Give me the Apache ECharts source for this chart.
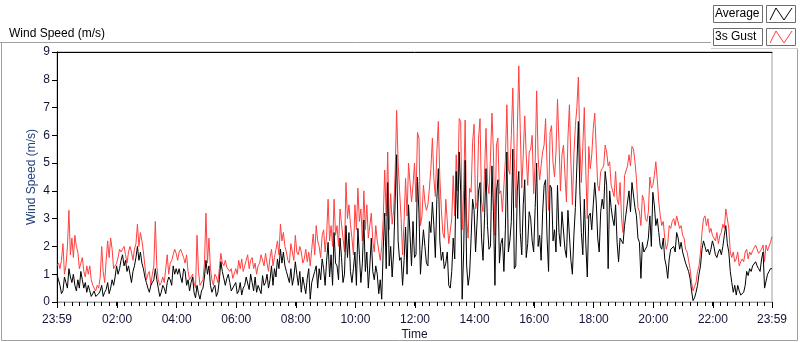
<!DOCTYPE html>
<html>
<head>
<meta charset="utf-8">
<title>Wind Speed</title>
<script src="https://cdn.jsdelivr.net/npm/echarts@6.0.0/dist/echarts.min.js"></script>
<style>
  html, body { margin: 0; padding: 0; background: #fff; }
  #main { width: 800px; height: 342px; }
</style>
</head>
<body>
<div id="main"></div>
<script>
// readings every 6 minutes from 23:59 the day before,
// plus a second set taken 3 minutes after each of them
var startTime = '23:59'
var stepMinutes = 6

var tickLabels = ['23:59', '02:00', '04:00', '06:00', '08:00', '10:00', '12:00',
  '14:00', '16:00', '18:00', '20:00', '22:00', '23:59']
var yTicks = [0, 1, 2, 3, 4, 5, 6, 7, 8, 9]

// 3s gust (m/s) on the 6 minute marks
var gust = [
  1.3, 1.2, 2.1, 1.3, 3.3, 2.3, 2.4, 1.8, 1.4, 1.1,
  1.3, 1.3, 0.6, 0.4, 0.5, 2.0, 0.7, 2.2, 2.3, 1.2,
  1.4, 1.9, 1.9, 1.7, 1.8, 1.8, 1.9, 2.8, 2.5, 1.8,
  0.8, 1.1, 1.0, 2.9, 0.8, 0.7, 0.7, 1.7, 1.4, 1.7,
  1.75, 1.8, 1.75, 1.4, 1.1, 0.8, 0.7, 2.4, 0.6, 0.8,
  3.2, 2.3, 0.8, 1.0, 0.7, 1.75, 1.3, 1.25, 1.1, 0.85,
  1.2, 1.5, 1.55, 1.3, 1.7, 1.5, 1.2, 1.0, 1.4, 1.7,
  1.75, 1.1, 1.9, 1.6, 2.2, 2.8, 2.5, 1.8, 1.4, 1.8,
  2.4, 1.7, 1.8, 1.55, 1.45, 1.3, 2.45, 2.75, 2.0, 2.4,
  1.8, 3.7, 2.75, 3.7, 2.75, 3.35, 2.3, 4.3, 3.5, 2.3,
  3.5, 4.1, 3.35, 4.0, 3.5, 2.75, 2.2, 2.75, 2.2, 2.0,
  4.75, 5.4, 3.9, 3.3, 6.9, 4.0, 1.7, 4.45, 5.0, 3.6,
  5.0, 6.1, 2.75, 4.2, 3.3, 4.1, 5.9, 3.8, 6.5, 3.35,
  2.3, 3.7, 2.1, 4.55, 5.3, 6.6, 2.6, 6.55, 2.3, 3.95,
  6.4, 3.6, 6.6, 3.25, 6.25, 3.9, 6.8, 2.4, 5.9, 4.0,
  3.3, 7.1, 4.6, 7.7, 3.4, 8.5, 4.1, 6.7, 4.2, 5.5,
  3.9, 7.6, 4.4, 5.4, 6.6, 3.3, 6.35, 4.5, 7.3, 4.0,
  5.65, 3.6, 7.1, 3.5, 6.35, 8.1, 4.3, 7.0, 3.0, 4.8,
  6.25, 5.5, 4.0, 4.8, 5.65, 4.9, 4.2, 3.8, 3.7, 4.3,
  2.5, 4.5, 5.3, 5.6, 5.05, 3.4, 2.75, 3.65, 2.9, 4.5,
  4.2, 5.05, 3.6, 2.75, 2.3, 2.1, 2.65, 3.0, 3.1, 2.65,
  2.4, 1.9, 1.5, 0.7, 0.55, 1.1, 1.8, 3.0, 2.75, 2.5,
  2.4, 2.2, 2.1, 2.5, 2.65, 3.3, 1.8, 1.8, 1.55, 1.3,
  1.55, 1.8, 1.55, 1.7, 1.95, 2.05, 1.7, 2.05, 2.05, 1.8, 2.35
]

// 3s gust (m/s) 3 minutes after each mark
var gustMid = [
  1.4, 1.5, 1.0, 2.0, 1.7, 1.6, 2.0, 1.2, 1.6, 0.9,
  1.0, 0.8, 0.5, 0.6, 0.9, 1.1, 1.5, 1.6, 1.9, 1.2,
  1.6, 1.8, 2.0, 1.4, 2.0, 1.5, 2.1, 2.0, 2.2, 1.3,
  1.0, 0.6, 1.3, 1.3, 0.6, 0.9, 1.2, 1.0, 1.5, 1.9,
  1.5, 1.9, 1.6, 1.7, 0.8, 1.0, 0.5, 1.1, 0.6, 1.4,
  1.4, 1.2, 0.6, 0.9, 1.2, 1.4, 1.5, 1.3, 1.2, 0.9,
  1.0, 1.2, 1.1, 1.5, 1.2, 1.6, 1.4, 1.3, 1.7, 1.3,
  1.4, 1.6, 1.3, 1.9, 1.7, 2.2, 2.0, 1.5, 2.1, 1.5,
  1.8, 2.0, 1.4, 1.9, 1.8, 1.9, 1.7, 2.2, 1.6, 2.6,
  2.4, 2.2, 2.0, 2.4, 2.0, 2.8, 1.8, 3.0, 2.8, 1.7,
  2.6, 2.9, 2.2, 2.6, 2.3, 3.2, 1.8, 2.2, 1.5, 3.0,
  3.1, 2.6, 2.8, 4.6, 5.0, 3.0, 2.9, 3.1, 4.3, 4.2,
  3.6, 5.9, 3.1, 3.6, 3.5, 4.8, 4.45, 5.4, 4.5, 2.5,
  3.7, 2.1, 3.0, 3.1, 4.0, 6.5, 4.0, 3.0, 4.1, 5.75,
  3.35, 5.9, 3.6, 4.6, 4.3, 5.2, 5.4, 5.65, 3.9, 3.25,
  5.1, 4.8, 6.0, 5.2, 6.1, 6.2, 5.3, 5.3, 5.4, 6.0,
  5.0, 5.2, 4.9, 5.65, 4.9, 6.1, 5.0, 5.4, 5.75, 5.3,
  4.6, 5.9, 5.0, 5.3, 7.0, 5.75, 5.6, 4.7, 5.6, 5.3,
  6.8, 4.2, 4.7, 4.9, 5.4, 5.05, 4.0, 4.7, 3.5, 3.0,
  4.55, 4.9, 4.9, 5.5, 4.45, 3.25, 3.85, 3.0, 3.25, 4.1,
  4.55, 4.4, 3.1, 2.9, 1.9, 2.75, 2.9, 2.75, 3.1, 2.75,
  2.3, 1.8, 1.2, 0.4, 0.7, 1.3, 2.5, 3.1, 3.0, 2.65,
  2.35, 2.5, 2.4, 2.8, 3.35, 2.65, 1.6, 1.45, 1.8, 1.45,
  1.45, 1.9, 1.8, 1.85, 2.05, 1.75, 1.9, 1.45, 1.85, 2.15
]

// average (m/s) on the 6 minute marks
var average = [
  1.0, 0.6, 0.4, 0.7, 1.2, 0.7, 0.6, 0.8, 1.1, 0.5,
  0.35, 0.4, 0.25, 0.2, 0.3, 0.6, 0.35, 0.7, 0.5, 0.6,
  1.3, 1.2, 1.7, 1.5, 1.3, 0.7, 1.3, 2.0, 1.8, 1.2,
  0.7, 0.35, 0.7, 1.2, 0.5, 0.35, 0.5, 0.7, 0.8, 1.3,
  1.2, 1.2, 0.7, 1.1, 0.8, 0.7, 0.35, 0.6, 0.1, 0.5,
  1.5, 1.3, 0.35, 0.6, 0.35, 1.45, 1.1, 0.85, 0.7, 0.35,
  0.7, 0.4, 0.25, 0.6, 0.85, 1.0, 0.4, 0.35, 0.6, 0.95,
  0.7, 0.5, 1.3, 1.2, 1.55, 1.9, 1.8, 1.1, 0.7, 0.6,
  1.45, 0.6, 0.35, 0.6, 0.85, 0.1, 0.7, 1.3, 1.2, 1.55,
  0.6, 2.15, 1.7, 2.5, 1.3, 2.3, 0.7, 2.75, 2.5, 0.7,
  1.8, 2.65, 0.7, 2.95, 1.8, 1.3, 1.1, 1.3, 0.3, 0.1,
  3.2, 4.3, 2.0, 1.8, 5.3, 1.5, 0.6, 2.7, 3.5, 1.3,
  1.6, 4.5, 1.0, 2.6, 1.4, 2.9, 3.6, 1.6, 4.8, 1.5,
  1.2, 1.8, 0.5, 2.3, 4.7, 5.4, 0.1, 5.1, 0.6, 2.3,
  3.3, 1.8, 4.3, 1.5, 4.8, 1.9, 4.9, 0.6, 4.4, 2.1,
  1.1, 5.4, 2.2, 5.5, 1.3, 4.7, 1.7, 4.4, 2.1, 3.0,
  1.8, 5.0, 2.4, 3.2, 4.4, 1.1, 4.1, 2.6, 4.2, 2.0,
  3.2, 1.6, 3.3, 1.0, 3.4, 6.5, 2.5, 3.7, 0.9, 3.2,
  3.5, 3.6, 1.8, 3.7, 4.7, 1.2, 3.4, 2.75, 2.15, 2.3,
  2.1, 2.8, 4.0, 4.3, 3.4, 2.3, 0.85, 1.8, 2.0, 3.1,
  3.95, 2.75, 2.5, 1.9, 1.55, 0.85, 1.9, 2.0, 2.5, 1.9,
  1.8, 1.4, 1.1, 0.4, 0.15, 0.6, 1.3, 2.2, 1.8, 1.7,
  2.2, 1.7, 1.8, 1.7, 2.4, 2.1, 1.1, 0.35, 0.25, 0.4,
  0.25, 0.6, 0.95, 1.1, 1.3, 1.3, 1.1, 1.8, 0.5, 1.1, 1.2
]

// average (m/s) 3 minutes after each mark
var averageMid = [
  0.8, 0.3, 0.9, 0.5, 0.9, 1.0, 0.4, 0.5, 0.8, 0.7,
  0.6, 0.2, 0.4, 0.15, 0.4, 0.2, 0.45, 0.3, 0.8, 0.9,
  1.0, 1.5, 1.3, 1.1, 1.0, 1.1, 1.6, 1.5, 1.4, 0.9,
  0.5, 0.6, 0.8, 0.8, 0.2, 0.6, 0.3, 0.9, 0.6, 1.0,
  1.0, 0.9, 1.2, 0.6, 0.4, 0.9, 0.15, 0.3, 0.4, 0.9,
  1.0, 0.6, 0.5, 0.2, 0.8, 1.1, 0.6, 1.0, 0.4, 0.6,
  0.3, 0.7, 0.5, 0.9, 0.45, 0.7, 0.9, 0.6, 0.3, 0.6,
  1.0, 0.8, 0.6, 0.9, 1.2, 1.4, 1.3, 0.9, 1.2, 0.9,
  1.0, 1.1, 0.9, 0.3, 1.2, 0.7, 1.1, 0.5, 0.8, 1.2,
  1.5, 0.9, 0.6, 1.4, 0.8, 1.6, 1.0, 1.6, 1.1, 1.2,
  0.6, 1.7, 1.4, 1.1, 0.5, 2.3, 0.8, 1.0, 0.8, 1.9,
  1.2, 1.3, 0.9, 3.6, 2.2, 1.6, 1.5, 1.0, 2.4, 2.9,
  1.7, 3.2, 1.9, 2.0, 1.3, 2.5, 2.75, 3.7, 2.2, 1.8,
  1.4, 0.6, 1.1, 1.55, 3.0, 4.0, 1.8, 1.3, 1.0, 3.7,
  1.8, 4.0, 2.3, 3.0, 2.75, 2.0, 3.25, 4.0, 1.4, 2.3,
  2.6, 1.8, 2.9, 1.2, 4.0, 2.5, 3.5, 1.6, 3.25, 2.2,
  3.4, 2.0, 1.5, 4.2, 2.3, 4.2, 2.2, 1.8, 2.5, 3.25,
  1.9, 3.3, 1.5, 2.4, 4.9, 4.0, 1.7, 2.1, 3.1, 2.6,
  4.3, 2.3, 3.25, 3.35, 4.2, 4.0, 3.0, 3.5, 1.45, 2.3,
  2.75, 3.6, 3.25, 3.85, 3.1, 2.15, 2.15, 1.9, 2.3, 2.0,
  3.5, 3.0, 2.0, 2.3, 1.3, 1.55, 1.9, 1.8, 2.3, 2.15,
  1.75, 1.4, 0.85, 0.05, 0.35, 1.0, 1.9, 2.0, 1.9, 1.9,
  2.0, 1.6, 1.9, 2.0, 2.75, 1.8, 0.7, 0.6, 0.6, 0.25,
  0.35, 1.1, 1.2, 1.3, 1.45, 1.2, 1.55, 0.5, 1.0, 1.2
]

function toMin(t) {
  var p = t.split(':')
  return parseInt(p[0], 10) * 60 + parseInt(p[1], 10)
}

var start = toMin(startTime)
var span = 1440

// label positions in minutes after the start
var majorPos = tickLabels.map(function (t, i) {
  var m = (toMin(t) - start + span) % span
  if (i === tickLabels.length - 1 && m === 0) m = span
  return m
})
var labelAt = {}
majorPos.forEach(function (m, i) { labelAt[m] = tickLabels[i] })

// merge the two reading sets into one time-ordered list
function pairs(marks, mids) {
  var out = []
  marks.forEach(function (v, i) {
    out.push([i * stepMinutes, v])
    if (i < mids.length) out.push([i * stepMinutes + stepMinutes / 2, mids[i]])
  })
  return out
}

var font = 'Liberation Sans, Arial, sans-serif'
var tickColor = '#141436'

var option = {
  animation: false,
  backgroundColor: '#fff',
  title: {
    text: 'Wind Speed (m/s)',
    left: 4,
    top: 23,
    textStyle: { fontFamily: font, fontSize: 12, fontWeight: 'normal', color: '#000' }
  },
  grid: {
    left: 57, right: 28, top: 52, bottom: 40,
    show: true,
    borderColor: '#a0a0a0',
    borderWidth: 1,
    outerBoundsMode: 'none'
  },
  xAxis: [
    {
      // labels every 2 hours, short ticks every 15 minutes
      type: 'value', min: 0, max: span, interval: 15, position: 'bottom',
      name: 'Time', nameLocation: 'middle', nameGap: 27, nameMoveOverlap: false,
      nameTextStyle: { fontFamily: font, fontSize: 12, color: tickColor },
      axisLine: { show: true, lineStyle: { color: '#a0a0a0' } },
      axisTick: { show: true, length: 4, lineStyle: { color: '#000' } },
      axisLabel: {
        customValues: majorPos,
        formatter: function (v) { return labelAt[v] || '' },
        fontFamily: font, fontSize: 12, color: tickColor, margin: 12
      },
      splitLine: { show: false }
    },
    {
      // longer ticks under the labels
      type: 'value', min: 0, max: span, position: 'bottom',
      axisLine: { show: true, lineStyle: { color: '#a0a0a0' } },
      axisTick: { show: true, customValues: majorPos, length: 6, lineStyle: { color: '#000' } },
      axisLabel: { show: false },
      splitLine: { show: false }
    },
    {
      type: 'value', min: 0, max: span, position: 'top',
      axisLine: { show: true, lineStyle: { color: '#000' } },
      axisTick: { show: false },
      axisLabel: { show: false },
      splitLine: { show: false }
    }
  ],
  yAxis: {
    type: 'value', min: yTicks[0], max: yTicks[yTicks.length - 1], interval: 1,
    name: 'Wind Speed (m/s)', nameLocation: 'middle', nameGap: 19, nameMoveOverlap: false,
    nameTextStyle: { fontFamily: font, fontSize: 12, color: '#23417a' },
    axisLine: { show: true, lineStyle: { color: '#000' } },
    axisTick: { show: true, length: 5, lineStyle: { color: '#000' } },
    axisLabel: { fontFamily: font, fontSize: 12, color: tickColor, margin: 7 },
    splitLine: { show: false }
  },
  graphic: [
    // outer frame
    { type: 'line', silent: true, shape: { x1: 0, y1: 42.5, x2: 711, y2: 42.5 }, style: { stroke: '#a0a0a0', lineWidth: 1 } },
    { type: 'line', silent: true, shape: { x1: 1.5, y1: 42.5, x2: 1.5, y2: 340.5 }, style: { stroke: '#a0a0a0', lineWidth: 1 } },
    { type: 'line', silent: true, shape: { x1: 1.5, y1: 340.5, x2: 797.5, y2: 340.5 }, style: { stroke: '#a0a0a0', lineWidth: 1 } },
    { type: 'line', silent: true, shape: { x1: 797.5, y1: 48.5, x2: 797.5, y2: 340.5 }, style: { stroke: '#a0a0a0', lineWidth: 1 } },
    { type: 'line', silent: true, shape: { x1: 711, y1: 48.5, x2: 798, y2: 48.5 }, style: { stroke: '#d0d0d0', lineWidth: 1 } },
    // legend
    { type: 'rect', silent: true, shape: { x: 713.5, y: 5.5, width: 49, height: 17 }, style: { fill: '#fff', stroke: '#6e6e6e', lineWidth: 1 } },
    { type: 'text', silent: true, x: 715, y: 14, style: { text: 'Average', fontFamily: font, fontSize: 12, fill: '#000', verticalAlign: 'middle' } },
    { type: 'rect', silent: true, shape: { x: 766.5, y: 5.5, width: 29, height: 17 }, style: { fill: '#fff', stroke: '#6e6e6e', lineWidth: 1 } },
    { type: 'polyline', silent: true, shape: { points: [[770, 20], [776, 8], [784, 20], [792, 8]] }, style: { stroke: '#000', fill: null, lineWidth: 1 } },
    { type: 'rect', silent: true, shape: { x: 713.5, y: 28.5, width: 49, height: 17 }, style: { fill: '#fff', stroke: '#6e6e6e', lineWidth: 1 } },
    { type: 'text', silent: true, x: 715, y: 37, style: { text: '3s Gust', fontFamily: font, fontSize: 12, fill: '#000', verticalAlign: 'middle' } },
    { type: 'rect', silent: true, shape: { x: 766.5, y: 28.5, width: 29, height: 17 }, style: { fill: '#fff', stroke: '#6e6e6e', lineWidth: 1 } },
    { type: 'polyline', silent: true, shape: { points: [[770, 43], [776, 31], [784, 43], [792, 31]] }, style: { stroke: '#ff4040', fill: null, lineWidth: 1 } }
  ],
  series: [
    {
      name: '3s Gust', type: 'line', data: pairs(gust, gustMid),
      showSymbol: false, symbol: 'none', color: '#ff4040',
      lineStyle: { width: 1, color: '#ff4040' }
    },
    {
      name: 'Average', type: 'line', data: pairs(average, averageMid),
      showSymbol: false, symbol: 'none', color: '#000',
      lineStyle: { width: 1, color: '#000' }
    }
  ]
}

var myChart = echarts.init(document.getElementById('main'))
myChart.setOption(option)
</script>
</body>
</html>
